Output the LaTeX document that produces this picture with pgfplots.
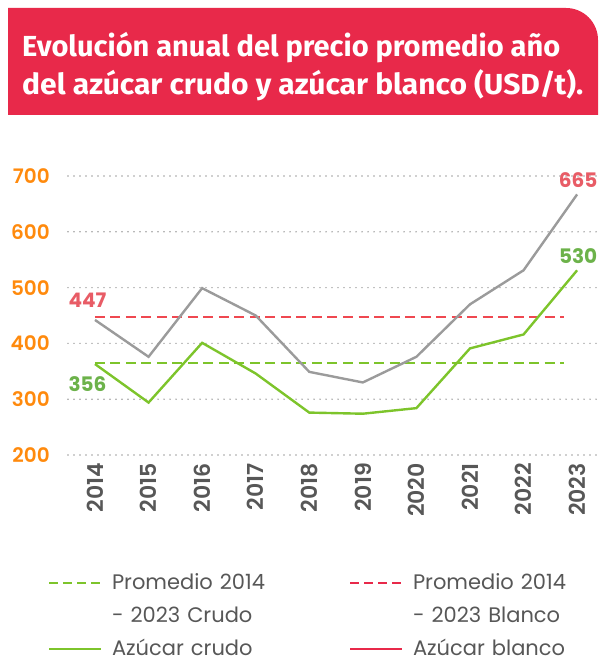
\documentclass[border=0pt]{standalone}
\usepackage{fontspec}
\setmainfont{Poppins}
\newfontfamily\popsb{Poppins SemiBold}
\newfontfamily\titlefont{Fira Sans}
\usepackage{graphicx}
\usepackage{pgfplots}
\pgfplotsset{compat=1.18}

\definecolor{banner}{HTML}{E8294A}
\definecolor{tickorange}{HTML}{FF8A0D}
\definecolor{greyline}{HTML}{9B9B9B}
\definecolor{greenline}{HTML}{7DC42B}
\definecolor{reddash}{HTML}{EF4850}
\definecolor{lblred}{HTML}{E85C66}
\definecolor{lblgreen}{HTML}{6CB24A}
\definecolor{txtgray}{HTML}{575757}
\definecolor{gridgray}{HTML}{A0A0A0}

\begin{document}
\begin{tikzpicture}
\path[use as bounding box] (0,0) rectangle (598pt,662pt);
% title banner
\fill[banner] (8pt,547pt) -- (8pt,654pt) -- (566pt,654pt)
  arc[start angle=90,end angle=0,radius=32pt] -- (598pt,547pt) -- cycle;
\node[anchor=base west,inner sep=0pt,text=white] at (22pt,605pt)
  {\resizebox{538pt}{\height}{\titlefont\bfseries\fontsize{29}{29}\selectfont Evolución anual del precio promedio año}};
\node[anchor=base west,inner sep=0pt,text=white] at (22pt,567pt)
  {\resizebox{561pt}{\height}{\titlefont\bfseries\fontsize{29}{29}\selectfont del azúcar crudo y azúcar blanco (USD/t).}};

\begin{axis}[
  at={(68pt,207pt)}, anchor=south west,
  scale only axis, width=530pt, height=279pt,
  xmin=2013.496, xmax=2023.39, ymin=200, ymax=700,
  xtick={2014,2015,...,2023}, ytick={200,300,...,700},
  /pgf/number format/1000 sep={},
  /pgf/number format/assume math mode=true,
  axis line style={draw=none}, tick style={draw=none},
  ymajorgrids,
  grid style={draw=gridgray, line width=1.6pt, dash pattern=on 0pt off 6pt, line cap=round},
  yticklabel style={font=\popsb\fontsize{20}{20}\selectfont, text=tickorange,
    anchor=east, inner sep=0pt, xshift=-18pt},
  xticklabel style={font=\popsb\fontsize{22}{22}\selectfont, text=txtgray,
    yshift=-8pt, rotate=90, anchor=east, inner sep=0pt},
  clip=false,
  legend columns=2,
  legend cell align=left,
  legend image code/.code={\draw[#1] (0pt,0pt) -- (52pt,0pt);},
  legend style={at={(axis description cs:-0.0377,-0.4300)}, anchor=north west,
    draw=none, fill=none, inner sep=0pt, outer sep=0pt,
    column sep=10pt, row sep=17pt,
    font=\fontsize{21}{24}\selectfont, text=txtgray,
    nodes={inner sep=0pt, text height=15pt, text depth=1pt, text width=227pt, align=left}},
]
% legend samples
\addlegendimage{greenline, line width=2pt, dash pattern=on 9pt off 5pt}
\addlegendentry{Promedio 2014}
\addlegendimage{banner, line width=2pt, dash pattern=on 9pt off 5pt}
\addlegendentry{Promedio 2014}
\addlegendimage{empty legend}
\addlegendentry{- 2023 Crudo}
\addlegendimage{empty legend}
\addlegendentry{- 2023 Blanco}
\addlegendimage{greenline, line width=2pt}
\addlegendentry{Azúcar crudo}
\addlegendimage{banner, line width=2pt}
\addlegendentry{Azúcar blanco}

% averages 2014-2023
\addplot[forget plot, greenline, line width=2pt, dash pattern=on 10pt off 5.5pt]
  coordinates {(2014,364)(2022.75,364)};
\addplot[forget plot, reddash, line width=2pt, dash pattern=on 10pt off 5.5pt]
  coordinates {(2014,448)(2022.75,448)};
% azucar blanco
\addplot[forget plot, greyline, line width=2.4pt] coordinates {
(2014,442)(2015,376)(2016,499)(2017,450)(2018,349)
(2019,330)(2020,376)(2021,470)(2022,531)(2023,667)};
% azucar crudo
\addplot[forget plot, greenline, line width=2.4pt] coordinates {
(2014,363)(2015,294)(2016,401)(2017,346)(2018,276)
(2019,274)(2020,284)(2021,391)(2022,416)(2023,531)};

\node[font=\bfseries\fontsize{20}{20}\selectfont, text=lblred] at (axis cs:2013.86,478) {447};
\node[font=\bfseries\fontsize{20}{20}\selectfont, text=lblgreen] at (axis cs:2013.86,327) {356};
\node[font=\bfseries\fontsize{20}{20}\selectfont, text=lblred] at (axis cs:2023.02,693) {665};
\node[font=\bfseries\fontsize{20}{20}\selectfont, text=lblgreen] at (axis cs:2023.02,557) {530};
\end{axis}
\end{tikzpicture}
\end{document}
